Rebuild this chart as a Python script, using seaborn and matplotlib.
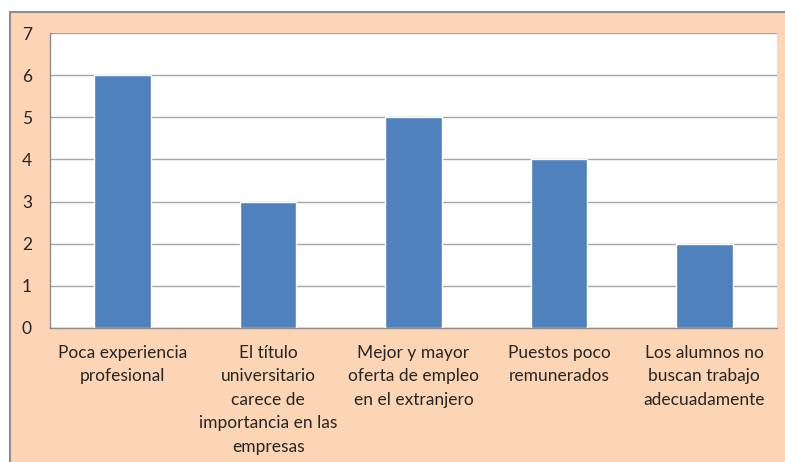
import seaborn as sns
import matplotlib.pyplot as plt
from matplotlib.patches import Rectangle
from matplotlib.lines import Line2D

categories = [
    "Poca experiencia\nprofesional",
    "El título\nuniversitario\ncarece de\nimportancia en las\nempresas",
    "Mejor y mayor\noferta de empleo\nen el extranjero",
    "Puestos poco\nremunerados",
    "Los alumnos no\nbuscan trabajo\nadecuadamente",
]
values = [6, 3, 5, 4, 2]

sns.set_style("white")
plt.rcParams['font.family'] = ['Lato', 'DejaVu Sans']

fig = plt.figure(figsize=(7.85, 4.62), dpi=100)
fig.patch.set_facecolor("white")

# peach chart area with gray border on top/left
W, H = 785, 462
fig.patches.append(Rectangle((10 / W, 0), 1, (H - 12) / H, transform=fig.transFigure,
                             facecolor="#FCD5B5", edgecolor="none", zorder=-10))
fig.lines.append(Line2D([10 / W, 1], [(H - 12) / H] * 2, transform=fig.transFigure,
                        color="#8C8C8C", lw=1.5, zorder=-9))
fig.lines.append(Line2D([10 / W] * 2, [0, (H - 12) / H], transform=fig.transFigure,
                        color="#8C8C8C", lw=1.5, zorder=-9))

ax = fig.add_axes([50 / W, (H - 328) / H, (777 - 50) / W, (328 - 33) / H])
ax.set_facecolor("white")

sns.barplot(x=list(range(len(values))), y=values, color="#4F81BD", saturation=1,
            width=0.39, ax=ax, zorder=3)

ax.set_ylim(0, 7)
ax.set_xlim(-0.5, len(values) - 0.5)
ax.set_yticks(range(0, 8))
ax.yaxis.grid(True, color="#A6A6A6", lw=1)
ax.set_axisbelow(True)

ax.set_xticks(range(len(values)))
ax.set_xticklabels(categories, fontsize=12.5, linespacing=1.58, va="top")
ax.set_xticks([i - 0.5 for i in range(len(values) + 1)], minor=True)
ax.tick_params(axis="x", which="major", length=0, pad=12)
ax.tick_params(axis="x", which="minor", length=5, color="#8C8C8C", width=1, direction="out")
ax.tick_params(axis="y", length=7, color="#8C8C8C", width=1, direction="out", pad=6, labelsize=12.5)

for s in ["top", "right"]:
    ax.spines[s].set_visible(False)
for s in ["left", "bottom"]:
    ax.spines[s].set_color("#8C8C8C")
    ax.spines[s].set_linewidth(1)

ax.set_xlabel("")
ax.set_ylabel("")

fig.savefig("out.png", dpi=100, facecolor=fig.get_facecolor())
